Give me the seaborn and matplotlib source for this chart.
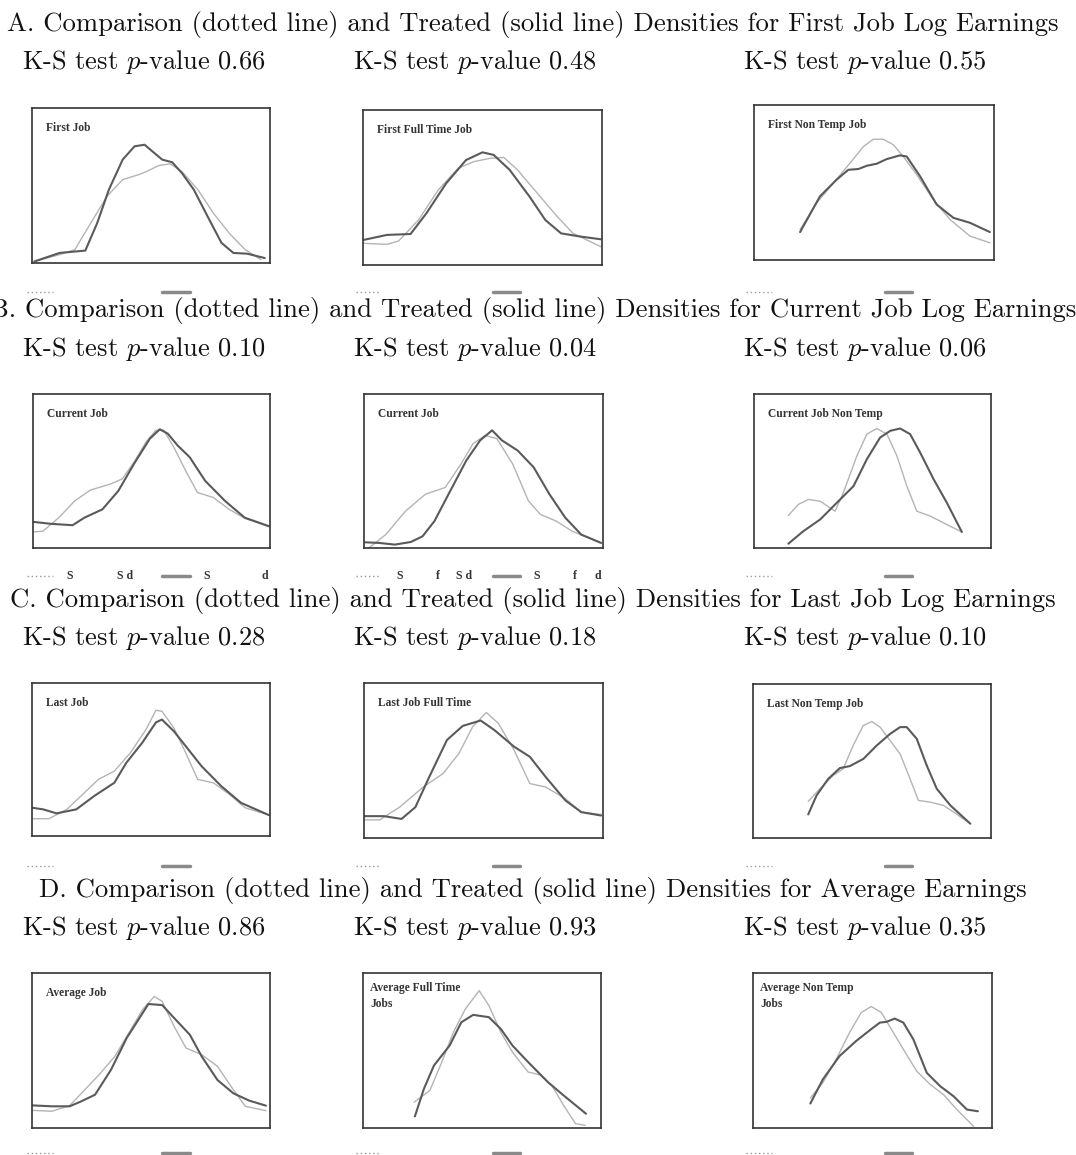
import pandas as pd
import numpy as np
import matplotlib
matplotlib.use("Agg")
import matplotlib.pyplot as plt
import seaborn as sns
from matplotlib.lines import Line2D

sns.set_style("white")
plt.rcParams['font.family'] = ['cmr10', 'DejaVu Serif']
plt.rcParams['mathtext.fontset'] = 'cm'
plt.rcParams['axes.unicode_minus'] = False

# titles and p-values
row_titles = [
    "A. Comparison (dotted line) and Treated (solid line) Densities for First Job Log Earnings",
    "B. Comparison (dotted line) and Treated (solid line) Densities for Current Job Log Earnings",
    "C. Comparison (dotted line) and Treated (solid line) Densities for Last Job Log Earnings",
    "D. Comparison (dotted line) and Treated (solid line) Densities for Average Earnings",
]
ks_pvalues = [
    ["0.66", "0.48", "0.55"],
    ["0.10", "0.04", "0.06"],
    ["0.28", "0.18", "0.10"],
    ["0.86", "0.93", "0.35"],
]
panel_labels = [
    ["First Job", "First Full Time Job", "First Non Temp Job"],
    ["Current Job", "Current Job", "Current Job Non Temp"],
    ["Last Job", "Last Job Full Time", "Last Non Temp Job"],
    ["Average Job", "Average Full Time\nJobs", "Average Non Temp\nJobs"],
]

# density curves (x, y as share of the panel box)
# A. first job
a1_tr_x = [0.01, 0.116, 0.224, 0.274, 0.323, 0.381, 0.431, 0.473, 0.506, 0.547, 0.589, 0.63, 0.68, 0.738, 0.796, 0.846, 0.904, 0.978]
a1_tr_y = [0.01, 0.065, 0.08, 0.258, 0.473, 0.667, 0.753, 0.763, 0.72, 0.667, 0.65, 0.58, 0.473, 0.3, 0.13, 0.065, 0.06, 0.032]
a1_cm_x = [0.01, 0.116, 0.18, 0.247, 0.315, 0.381, 0.448, 0.481, 0.531, 0.58, 0.63, 0.697, 0.763, 0.83, 0.896, 0.962]
a1_cm_y = [0.01, 0.054, 0.086, 0.258, 0.43, 0.538, 0.57, 0.59, 0.628, 0.64, 0.59, 0.473, 0.32, 0.19, 0.086, 0.022]

a2_tr_x = [0.0, 0.1, 0.199, 0.265, 0.348, 0.431, 0.5, 0.547, 0.614, 0.697, 0.763, 0.829, 0.912, 0.995]
a2_tr_y = [0.161, 0.194, 0.2, 0.333, 0.527, 0.677, 0.727, 0.71, 0.613, 0.441, 0.29, 0.204, 0.183, 0.166]
a2_cm_x = [0.0, 0.1, 0.149, 0.232, 0.315, 0.398, 0.464, 0.531, 0.589, 0.647, 0.73, 0.813, 0.879, 0.995]
a2_cm_y = [0.14, 0.133, 0.155, 0.29, 0.484, 0.624, 0.667, 0.688, 0.694, 0.613, 0.462, 0.312, 0.204, 0.118]

a3_tr_x = [0.192, 0.275, 0.344, 0.393, 0.435, 0.47, 0.511, 0.553, 0.608, 0.636, 0.692, 0.761, 0.831, 0.9, 0.983]
a3_tr_y = [0.18, 0.411, 0.518, 0.582, 0.587, 0.608, 0.621, 0.651, 0.675, 0.668, 0.54, 0.358, 0.272, 0.24, 0.18]
a3_cm_x = [0.192, 0.261, 0.331, 0.4, 0.456, 0.497, 0.539, 0.581, 0.622, 0.678, 0.747, 0.817, 0.9, 0.983]
a3_cm_y = [0.197, 0.368, 0.497, 0.625, 0.732, 0.779, 0.779, 0.743, 0.668, 0.55, 0.39, 0.261, 0.154, 0.111]

# B. current job
b1_tr_x = [0.0, 0.075, 0.167, 0.217, 0.293, 0.36, 0.426, 0.493, 0.535, 0.569, 0.61, 0.661, 0.726, 0.81, 0.893, 0.995]
b1_tr_y = [0.17, 0.157, 0.148, 0.197, 0.251, 0.371, 0.546, 0.71, 0.771, 0.742, 0.666, 0.59, 0.437, 0.306, 0.197, 0.142]
b1_cm_x = [0.005, 0.042, 0.109, 0.176, 0.242, 0.326, 0.376, 0.426, 0.477, 0.518, 0.552, 0.594, 0.644, 0.694, 0.761, 0.828, 0.895, 0.995]
b1_cm_y = [0.105, 0.109, 0.197, 0.306, 0.376, 0.415, 0.448, 0.557, 0.688, 0.764, 0.764, 0.655, 0.502, 0.36, 0.328, 0.251, 0.192, 0.138]

b2_tr_x = [0.005, 0.063, 0.129, 0.196, 0.245, 0.295, 0.361, 0.428, 0.486, 0.536, 0.577, 0.643, 0.71, 0.776, 0.842, 0.909, 0.992]
b2_tr_y = [0.037, 0.033, 0.022, 0.039, 0.076, 0.175, 0.371, 0.568, 0.699, 0.764, 0.699, 0.633, 0.524, 0.349, 0.197, 0.087, 0.033]
b2_cm_x = [0.02, 0.091, 0.174, 0.257, 0.34, 0.406, 0.456, 0.506, 0.556, 0.622, 0.688, 0.738, 0.804, 0.871, 0.992]
b2_cm_y = [0.0, 0.087, 0.24, 0.349, 0.393, 0.546, 0.677, 0.731, 0.71, 0.546, 0.306, 0.218, 0.175, 0.109, 0.033]

b3_tr_x = [0.145, 0.208, 0.279, 0.349, 0.42, 0.476, 0.532, 0.575, 0.617, 0.659, 0.701, 0.758, 0.814, 0.877]
b3_tr_y = [0.028, 0.109, 0.185, 0.293, 0.402, 0.576, 0.717, 0.761, 0.776, 0.739, 0.62, 0.446, 0.293, 0.104]
b3_cm_x = [0.145, 0.187, 0.23, 0.279, 0.342, 0.377, 0.434, 0.476, 0.518, 0.561, 0.603, 0.645, 0.687, 0.744, 0.814, 0.877]
b3_cm_y = [0.211, 0.283, 0.315, 0.304, 0.239, 0.359, 0.598, 0.739, 0.776, 0.739, 0.598, 0.402, 0.239, 0.207, 0.152, 0.104]

# C. last job
c1_tr_x = [0.0, 0.047, 0.103, 0.186, 0.261, 0.346, 0.396, 0.463, 0.521, 0.546, 0.596, 0.646, 0.712, 0.795, 0.878, 0.995]
c1_tr_y = [0.185, 0.174, 0.148, 0.174, 0.261, 0.348, 0.478, 0.609, 0.743, 0.761, 0.685, 0.587, 0.457, 0.326, 0.217, 0.137]
c1_cm_x = [0.005, 0.071, 0.146, 0.213, 0.279, 0.346, 0.413, 0.479, 0.521, 0.546, 0.596, 0.646, 0.696, 0.762, 0.829, 0.895, 0.995]
c1_cm_y = [0.113, 0.113, 0.174, 0.272, 0.37, 0.424, 0.543, 0.696, 0.822, 0.815, 0.707, 0.543, 0.37, 0.348, 0.272, 0.185, 0.137]

c2_tr_x = [0.0, 0.083, 0.157, 0.215, 0.273, 0.347, 0.413, 0.488, 0.545, 0.628, 0.694, 0.76, 0.843, 0.909, 0.992]
c2_tr_y = [0.141, 0.141, 0.123, 0.199, 0.394, 0.632, 0.723, 0.758, 0.697, 0.589, 0.524, 0.394, 0.242, 0.167, 0.145]
c2_cm_x = [0.0, 0.066, 0.149, 0.248, 0.331, 0.397, 0.455, 0.512, 0.562, 0.628, 0.694, 0.76, 0.843, 0.909, 0.992]
c2_cm_y = [0.117, 0.117, 0.199, 0.329, 0.416, 0.545, 0.719, 0.81, 0.74, 0.567, 0.351, 0.329, 0.253, 0.167, 0.152]

c3_tr_x = [0.232, 0.267, 0.316, 0.365, 0.407, 0.464, 0.52, 0.576, 0.618, 0.646, 0.688, 0.73, 0.772, 0.829, 0.913]
c3_tr_y = [0.153, 0.276, 0.384, 0.454, 0.467, 0.514, 0.601, 0.676, 0.72, 0.72, 0.644, 0.471, 0.32, 0.212, 0.093]
c3_cm_x = [0.232, 0.281, 0.337, 0.379, 0.421, 0.463, 0.499, 0.534, 0.576, 0.618, 0.66, 0.695, 0.744, 0.8, 0.843, 0.913]
c3_cm_y = [0.238, 0.32, 0.406, 0.45, 0.601, 0.73, 0.756, 0.72, 0.633, 0.546, 0.384, 0.244, 0.233, 0.212, 0.168, 0.093]

# D. average earnings
d1_tr_x = [0.0, 0.083, 0.158, 0.207, 0.265, 0.332, 0.398, 0.456, 0.489, 0.547, 0.597, 0.663, 0.713, 0.779, 0.846, 0.912, 0.983]
d1_tr_y = [0.146, 0.14, 0.14, 0.172, 0.215, 0.376, 0.581, 0.72, 0.8, 0.793, 0.71, 0.602, 0.462, 0.31, 0.224, 0.177, 0.144]
d1_cm_x = [0.0, 0.083, 0.158, 0.216, 0.282, 0.348, 0.415, 0.464, 0.514, 0.547, 0.597, 0.647, 0.713, 0.779, 0.846, 0.896, 0.983]
d1_cm_y = [0.114, 0.108, 0.144, 0.237, 0.344, 0.462, 0.634, 0.763, 0.849, 0.817, 0.656, 0.516, 0.473, 0.398, 0.247, 0.14, 0.112]

d2_tr_x = [0.218, 0.256, 0.298, 0.364, 0.413, 0.463, 0.529, 0.579, 0.628, 0.694, 0.777, 0.843, 0.937]
d2_tr_y = [0.075, 0.253, 0.403, 0.532, 0.682, 0.73, 0.715, 0.639, 0.532, 0.425, 0.296, 0.21, 0.092]
d2_cm_x = [0.215, 0.281, 0.331, 0.38, 0.43, 0.488, 0.529, 0.579, 0.628, 0.694, 0.744, 0.793, 0.843, 0.893, 0.934]
d2_cm_y = [0.167, 0.242, 0.425, 0.618, 0.768, 0.886, 0.79, 0.618, 0.489, 0.361, 0.343, 0.275, 0.146, 0.028, 0.017]

d3_tr_x = [0.24, 0.292, 0.362, 0.432, 0.503, 0.531, 0.559, 0.593, 0.629, 0.671, 0.727, 0.783, 0.839, 0.895, 0.941]
d3_tr_y = [0.158, 0.313, 0.464, 0.562, 0.648, 0.68, 0.685, 0.706, 0.68, 0.572, 0.356, 0.27, 0.205, 0.119, 0.108]
d3_cm_x = [0.24, 0.292, 0.348, 0.404, 0.453, 0.495, 0.537, 0.579, 0.629, 0.685, 0.741, 0.797, 0.853, 0.923]
d3_cm_y = [0.194, 0.292, 0.443, 0.616, 0.745, 0.784, 0.745, 0.637, 0.508, 0.367, 0.281, 0.216, 0.119, 0.011]

curves = [
    [(a1_tr_x, a1_tr_y, a1_cm_x, a1_cm_y), (a2_tr_x, a2_tr_y, a2_cm_x, a2_cm_y), (a3_tr_x, a3_tr_y, a3_cm_x, a3_cm_y)],
    [(b1_tr_x, b1_tr_y, b1_cm_x, b1_cm_y), (b2_tr_x, b2_tr_y, b2_cm_x, b2_cm_y), (b3_tr_x, b3_tr_y, b3_cm_x, b3_cm_y)],
    [(c1_tr_x, c1_tr_y, c1_cm_x, c1_cm_y), (c2_tr_x, c2_tr_y, c2_cm_x, c2_cm_y), (c3_tr_x, c3_tr_y, c3_cm_x, c3_cm_y)],
    [(d1_tr_x, d1_tr_y, d1_cm_x, d1_cm_y), (d2_tr_x, d2_tr_y, d2_cm_x, d2_cm_y), (d3_tr_x, d3_tr_y, d3_cm_x, d3_cm_y)],
]

# layout (pixels of the 1076x1155 page)
W, H = 1076, 1155
title_y = [24, 310, 600, 890]
ks_y = [62, 349, 638, 928]
ks_x = [22, 353, 743]
legend_y = [292, 576, 866, 1153]
boxes = [
    [(32, 108, 270, 263), (363, 110, 602, 265), (754, 105, 994, 260)],
    [(33, 394, 270, 548), (364, 394, 603, 548), (754, 394, 991, 548)],
    [(32, 683, 270, 836), (364, 683, 603, 838), (753, 684, 991, 838)],
    [(32, 973, 270, 1128), (363, 973, 601, 1128), (753, 973, 992, 1128)],
]
dot_x = [(27, 53), (356, 381), (746, 772)]
bar_x = [(162, 190), (493, 520), (885, 912)]

fig = plt.figure(figsize=(W / 100, H / 100), dpi=100)
fig.patch.set_facecolor("white")

def fx(px):
    return px / W

def fy(py):
    return 1 - py / H

for r in range(4):
    fig.text(fx(533), fy(title_y[r]), row_titles[r], ha="center", va="center",
             fontsize=19.2, color="#111111")
    for c in range(3):
        fig.text(fx(ks_x[c]), fy(ks_y[r]), "K-S test $p$-value " + ks_pvalues[r][c],
                 ha="left", va="center", fontsize=19, color="#111111")
        l, t, rr, b = boxes[r][c]
        ax = fig.add_axes([fx(l), fy(b), (rr - l) / W, (b - t) / H])
        tr_x, tr_y, cm_x, cm_y = curves[r][c]
        df_tr = pd.DataFrame({"x": tr_x, "y": tr_y})
        df_cm = pd.DataFrame({"x": cm_x, "y": cm_y})
        sns.lineplot(data=df_cm, x="x", y="y", ax=ax, color="#b4b4b4", linewidth=1.0, sort=False)
        sns.lineplot(data=df_tr, x="x", y="y", ax=ax, color="#5a5a5a", linewidth=1.5, sort=False)
        for ln in ax.get_lines():
            ln.set_solid_joinstyle("round")
        ax.set_xlim(0, 1)
        ax.set_ylim(0, 1)
        ax.set_xticks([])
        ax.set_yticks([])
        ax.set_xlabel("")
        ax.set_ylabel("")
        for s in ax.spines.values():
            s.set_color("#333333")
            s.set_linewidth(1.2)
        two_lines = "\n" in panel_labels[r][c]
        lx = 0.03 if two_lines else 0.06
        ly = 0.94 if two_lines else 0.91
        ax.text(lx, ly, panel_labels[r][c], transform=ax.transAxes, ha="left", va="top",
                fontsize=8.3, family="Liberation Serif", fontweight="bold", color="#333333",
                linespacing=1.4)
        # legend stubs under each panel
        x0, x1 = dot_x[c]
        fig.add_artist(Line2D([fx(x0), fx(x1)], [fy(legend_y[r]), fy(legend_y[r])],
                              color="#999999", linewidth=1.0, linestyle=(0, (1, 2))))
        x0, x1 = bar_x[c]
        fig.add_artist(Line2D([fx(x0), fx(x1)], [fy(legend_y[r]), fy(legend_y[r])],
                              color="#8a8a8a", linewidth=2.5))

# stray letters under the current job panels
stray = [(70, "S"), (125, "S d"), (207, "S"), (265, "d"),
         (400, "S"), (438, "f"), (464, "S d"), (537, "S"), (575, "f"), (598, "d")]
for px, s in stray:
    fig.text(fx(px), fy(legend_y[1]), s, ha="center", va="center", fontsize=8.5,
             family="Liberation Serif", fontweight="bold", color="#333333")

fig.savefig("out.png", dpi=100, facecolor="white")
